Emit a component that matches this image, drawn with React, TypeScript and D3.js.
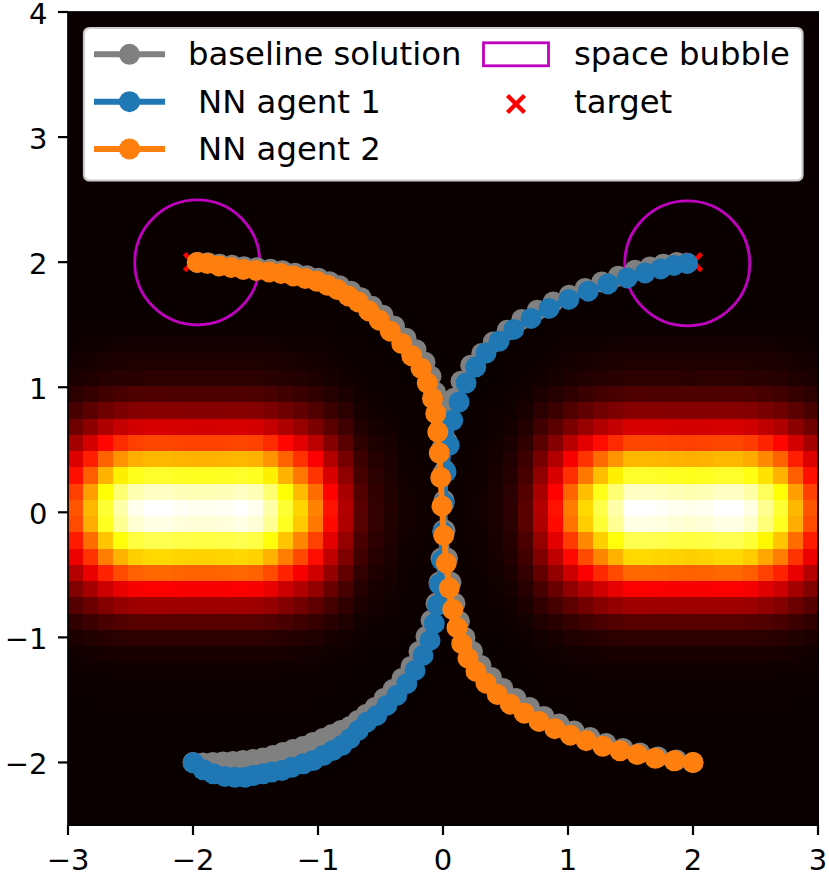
import React from "react";
import * as d3 from "d3";

const xTicks = [-3, -2, -1, 0, 1, 2, 3];
const yTicks = [-2, -1, 0, 1, 2, 3, 4];

// heat field: column and row intensity profiles (50 x 50 cells)
const colProfile = [
  0.49, 0.64, 0.8, 0.915, 0.98, 1, 1, 0.99, 0.985, 0.985,
  0.99, 1, 0.985, 0.915, 0.8, 0.685, 0.56, 0.39, 0.25, 0.115,
  0.06, 0.035, 0.014, 0.008, 0.004, 0.004, 0.006, 0.012, 0.025, 0.05,
  0.115, 0.25, 0.39, 0.55, 0.69, 0.82, 0.915, 1, 1, 0.995,
  0.985, 0.98, 0.985, 1, 1, 0.97, 0.89, 0.8, 0.64, 0.49,
];
const rowProfile = [
  0, 0, 0, 0, 0, 0, 0, 0, 0, 0,
  0, 0, 0, 0, 0, 0, 0, 0, 0.001, 0.004,
  0.014, 0.029, 0.047, 0.1, 0.186, 0.305, 0.47, 0.64, 0.79, 0.94,
  1, 0.975, 0.825, 0.69, 0.52, 0.36, 0.225, 0.115, 0.052, 0.022,
  0.009, 0.004, 0.002, 0, 0, 0, 0, 0, 0, 0,
];

const baselineA: [number, number][] = [
  [-2, -2], [-1.92, -2.004], [-1.84, -2], [-1.76, -1.996], [-1.68, -1.992], [-1.6, -1.984], [-1.52, -1.976],
  [-1.44, -1.964], [-1.36, -1.944], [-1.28, -1.92], [-1.2, -1.896], [-1.12, -1.872], [-1.04, -1.84], [-0.96, -1.808],
  [-0.888, -1.776], [-0.816, -1.744], [-0.744, -1.712], [-0.68, -1.664], [-0.616, -1.616], [-0.544, -1.56],
  [-0.472, -1.488], [-0.4, -1.416], [-0.328, -1.328], [-0.256, -1.232], [-0.192, -1.112], [-0.136, -0.992],
  [-0.096, -0.864], [-0.056, -0.728], [-0.032, -0.56], [-0.016, -0.368], [0, -0.144], [0.008, 0.096], [0.016, 0.336],
  [0.032, 0.568], [0.056, 0.76], [0.088, 0.912], [0.144, 1.048], [0.222, 1.176], [0.31, 1.27], [0.402, 1.362],
  [0.514, 1.456], [0.63, 1.542], [0.754, 1.616], [0.882, 1.682], [1.01, 1.736], [1.136, 1.79], [1.27, 1.842],
  [1.402, 1.888], [1.536, 1.936], [1.656, 1.962], [1.762, 1.984], [1.87, 1.998], [1.954, 1.992],
];
const baselineB: [number, number][] = [
  [2, -2], [1.868, -1.98], [1.72, -1.956], [1.576, -1.924], [1.44, -1.888], [1.304, -1.848], [1.176, -1.8],
  [1.048, -1.748], [0.928, -1.692], [0.808, -1.632], [0.692, -1.56], [0.584, -1.488], [0.48, -1.408], [0.388, -1.32],
  [0.304, -1.224], [0.236, -1.112], [0.176, -1], [0.132, -0.872], [0.096, -0.728], [0.064, -0.56], [0.036, -0.368],
  [0.016, -0.144], [0.008, 0.08], [0, 0.312], [-0.008, 0.512], [-0.02, 0.68], [-0.036, 0.832], [-0.06, 0.96],
  [-0.096, 1.088], [-0.144, 1.2], [-0.216, 1.3], [-0.296, 1.392], [-0.388, 1.488], [-0.48, 1.576], [-0.568, 1.648],
  [-0.656, 1.716], [-0.736, 1.768], [-0.828, 1.812], [-0.908, 1.844], [-0.996, 1.872], [-1.088, 1.892], [-1.184, 1.912],
  [-1.284, 1.932], [-1.38, 1.944], [-1.488, 1.956], [-1.592, 1.964], [-1.688, 1.976], [-1.788, 1.984], [-1.88, 1.996],
  [-1.966, 1.998],
];
const agent1: [number, number][] = [
  [-1.998, -2.002], [-1.918, -2.058], [-1.838, -2.09], [-1.744, -2.112], [-1.664, -2.118], [-1.584, -2.118],
  [-1.518, -2.104], [-1.438, -2.09], [-1.37, -2.076], [-1.29, -2.064], [-1.21, -2.038], [-1.118, -2.01],
  [-1.038, -1.984], [-0.958, -1.944], [-0.882, -1.904], [-0.81, -1.864], [-0.744, -1.81], [-0.678, -1.744],
  [-0.61, -1.678], [-0.53, -1.624], [-0.45, -1.544], [-0.37, -1.464], [-0.29, -1.37], [-0.224, -1.264],
  [-0.16, -1.144], [-0.104, -1.024], [-0.07, -0.89], [-0.046, -0.744], [-0.03, -0.576], [-0.01, -0.384],
  [-0.002, -0.158], [0.008, 0.074], [0.024, 0.322], [0.05, 0.536], [0.078, 0.736], [0.128, 0.882], [0.184, 1.034],
  [0.262, 1.162], [0.344, 1.274], [0.448, 1.368], [0.566, 1.462], [0.704, 1.55], [0.848, 1.63], [1.006, 1.702],
  [1.162, 1.768], [1.32, 1.826], [1.474, 1.874], [1.616, 1.914], [1.742, 1.946], [1.848, 1.974], [1.954, 1.99],
];
const agent2: [number, number][] = [
  [2, -2], [1.85, -1.986], [1.698, -1.966], [1.554, -1.936], [1.416, -1.906], [1.278, -1.87], [1.146, -1.826],
  [1.018, -1.782], [0.894, -1.73], [0.768, -1.672], [0.65, -1.606], [0.538, -1.534], [0.434, -1.456], [0.344, -1.366],
  [0.264, -1.272], [0.2, -1.166], [0.15, -1.05], [0.112, -0.922], [0.078, -0.778], [0.05, -0.606], [0.026, -0.406],
  [0.006, -0.184], [-0.008, 0.05], [-0.018, 0.278], [-0.03, 0.474], [-0.042, 0.642], [-0.058, 0.79], [-0.084, 0.91],
  [-0.126, 1.034], [-0.176, 1.152], [-0.25, 1.252], [-0.33, 1.35], [-0.422, 1.448], [-0.51, 1.536], [-0.594, 1.61],
  [-0.678, 1.682], [-0.758, 1.73], [-0.846, 1.782], [-0.926, 1.816], [-1.01, 1.848], [-1.102, 1.87], [-1.198, 1.89],
  [-1.296, 1.91], [-1.392, 1.922], [-1.496, 1.934], [-1.598, 1.942], [-1.696, 1.958], [-1.792, 1.97], [-1.886, 1.99],
  [-1.966, 1.998],
];
const targets: [number, number][] = [[-2, 2], [2, 2]];
const bubbleCentres: [number, number][] = [[-1.966, 1.998], [1.954, 1.99]];
const bubbleRadius = 0.5;

const GREY = "#808080";
const BLUE = "#1f77b4";
const ORANGE = "#ff7f0e";
const MAGENTA = "#bf00bf";
const FONT = "'DejaVu Sans', sans-serif";
const TICK_FS = 29;
const LEGEND_FS = 32.3;
const LW = 6;
const MR = 10.5;

const seriesList = [
  { pts: baselineA, color: GREY },
  { pts: baselineB, color: GREY },
  { pts: agent1, color: BLUE },
  { pts: agent2, color: ORANGE },
];

const legendLines = [
  { label: "baseline solution", color: GREY, y: 54.3, tx: 188 },
  { label: "NN agent 1", color: BLUE, y: 101.7, tx: 198 },
  { label: "NN agent 2", color: ORANGE, y: 149, tx: 198 },
];

const x = d3.scaleLinear().domain([-3, 3]).range([68, 818]);
const y = d3.scaleLinear().domain([-2.5, 4]).range([825, 12]);
const col = d3.scaleBand<number>().domain(d3.range(50)).range([68, 818]);
const row = d3.scaleBand<number>().domain(d3.range(50)).range([12, 825]);
const hotR = d3.scaleLinear().domain([0, 0.365079, 1]).range([0.0416, 1, 1]).clamp(true);
const hotG = d3.scaleLinear().domain([0, 0.365079, 0.746032, 1]).range([0, 0, 1, 1]).clamp(true);
const hotB = d3.scaleLinear().domain([0, 0.746032, 1]).range([0, 0, 1]).clamp(true);
const hot = (v: number) =>
  `rgb(${Math.round(hotR(v) * 255)},${Math.round(hotG(v) * 255)},${Math.round(hotB(v) * 255)})`;

const line = d3.line<[number, number]>().x((d) => x(d[0])).y((d) => y(d[1]));

const Cross = ({ cx, cy, s, w }: { cx: number; cy: number; s: number; w: number }) => (
  <path d={`M${cx - s},${cy - s}L${cx + s},${cy + s}M${cx - s},${cy + s}L${cx + s},${cy - s}`} stroke="#ff0000" strokeWidth={w} fill="none" />
);

export default function App() {
  return (
    <svg width={829} height={877} style={{ position: "absolute", left: 0, top: 0 }} fontFamily={FONT}>
      <rect width={829} height={877} fill="#fff" />
      <g shapeRendering="crispEdges">
        {rowProfile.map((rv, r) =>
          colProfile.map((cv, c) => (
            <rect key={`${r}-${c}`} x={col(c)} y={row(r)} width={col.bandwidth() + 0.5} height={row.bandwidth() + 0.5} fill={hot(rv * cv)} />
          ))
        )}
      </g>
      {bubbleCentres.map((d, i) => (
        <circle key={i} cx={x(d[0])} cy={y(d[1])} r={x(bubbleRadius) - x(0)} fill="none" stroke={MAGENTA} strokeWidth={2.8} />
      ))}
      {targets.map((d, i) => (
        <Cross key={i} cx={x(d[0])} cy={y(d[1])} s={8.5} w={4.4} />
      ))}
      {seriesList.map((s, i) => (
        <g key={i}>
          <path d={line(s.pts) ?? ""} fill="none" stroke={s.color} strokeWidth={LW} />
          {s.pts.map((d, j) => (
            <circle key={j} cx={x(d[0])} cy={y(d[1])} r={MR} fill={s.color} />
          ))}
        </g>
      ))}
      {/* axes */}
      <path d="M68,825V12H818V825Z" fill="none" stroke="#000" strokeWidth={2} opacity={0.85} />
      {xTicks.map((t) => (
        <g key={t}>
          <line x1={x(t)} x2={x(t)} y1={825} y2={835} stroke="#000" strokeWidth={2.2} />
          <text x={x(t)} y={870} fontSize={TICK_FS} textAnchor="middle">{t < 0 ? `\u2212${-t}` : t}</text>
        </g>
      ))}
      {yTicks.map((t) => (
        <g key={t}>
          <line x1={58} x2={68} y1={y(t)} y2={y(t)} stroke="#000" strokeWidth={2.2} />
          <text x={47.5} y={y(t) + 11.5} fontSize={TICK_FS} textAnchor="end">{t < 0 ? `\u2212${-t}` : t}</text>
        </g>
      ))}
      {/* legend */}
      <rect x={84} y={28} width={718.5} height={152.5} rx={5.5} fill="#fff" stroke="#cccccc" strokeWidth={2.2} />
      {legendLines.map((l) => (
        <g key={l.label}>
          <line x1={94} x2={165} y1={l.y} y2={l.y} stroke={l.color} strokeWidth={LW} />
          <circle cx={129.5} cy={l.y} r={MR} fill={l.color} />
          <text x={l.tx} y={l.y + 10.8} fontSize={LEGEND_FS}>{l.label}</text>
        </g>
      ))}
      <rect x={483.5} y={42.8} width={65} height={23} fill="none" stroke={MAGENTA} strokeWidth={2.8} />
      <text x={574} y={65.1} fontSize={LEGEND_FS}>space bubble</text>
      <Cross cx={516} cy={104} s={8.5} w={4.4} />
      <text x={574} y={112.5} fontSize={LEGEND_FS}>target</text>
    </svg>
  );
}
